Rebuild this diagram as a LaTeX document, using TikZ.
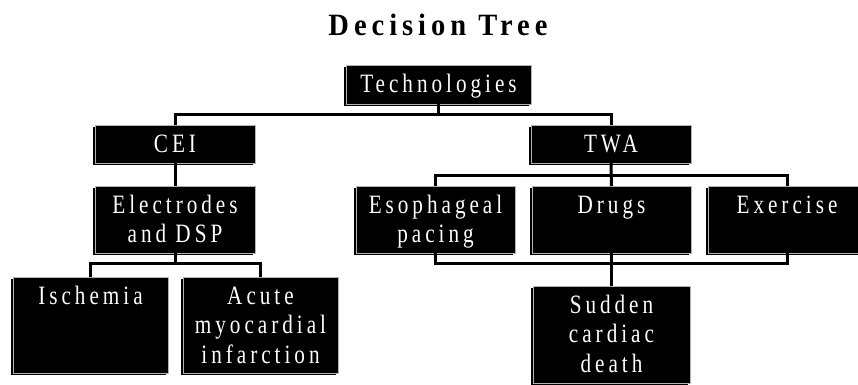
\documentclass[tikz,border=0pt]{standalone}
\usepackage{fontspec}
\setmainfont{Liberation Serif}
\newfontfamily\boxfont[LetterSpace=15,FakeStretch=0.8]{Liberation Serif}
\newfontfamily\ttlfont[LetterSpace=16,FakeStretch=0.92]{Liberation Serif}
\usetikzlibrary{shadows}
\tikzset{
  tb/.style={fill=black, draw=gray!60, line width=0.9pt, inner sep=0pt, outer sep=0pt, text=white,
    general shadow={fill=black, shadow xshift=-2pt, shadow yshift=-2pt}},
  conn/.style={draw=black, line width=3pt},
}
\newcommand\bxtext[3]{\parbox[c][#2][t]{#1}{\centering\boxfont\fontsize{26.5}{29.5}\selectfont\rule{0pt}{27pt}#3}}
\newcommand\tbox[6]{\node[tb] (#1) at ({(#2+#4)/2},{(#3+#5)/2})
  {\bxtext{\dimexpr #4pt-#2pt\relax}{\dimexpr #5pt-#3pt\relax}{#6}};}
\begin{document}
\begin{tikzpicture}[x=1pt,y=-1pt]
\useasboundingbox (0,0) rectangle (858,384);
\node[anchor=base, font=\ttlfont\bfseries\fontsize{31}{36}\selectfont] (title) at (438,35) {Decision Tree};
\tbox{tech}{346}{65}{531}{104}{Technologies}
\tbox{cei}{95}{125}{255}{163}{CEI}
\tbox{twa}{531}{125}{691}{163}{TWA}
\tbox{elec}{95}{186}{255}{253}{Electrodes\\and DSP}
\tbox{eso}{356}{186}{515}{253}{Esophageal\\pacing}
\tbox{drugs}{532}{186}{691}{253}{Drugs}
\tbox{exer}{708}{186}{866}{253}{Exercise}
\tbox{isch}{13}{277}{168}{373}{Ischemia}
\tbox{acute}{183}{277}{338}{373}{Acute\\myocardial\\infarction}
\tbox{sudden}{533}{286}{690}{383}{Sudden\\cardiac\\death}
\coordinate (b1) at (0,114);
\coordinate (b2) at (0,175);
\coordinate (b3) at (0,263);
\draw[conn] (tech.south) -- (tech.south |- b1);
\draw[conn] (cei.north) |- (twa.north |- b1) -- (twa.north);
\draw[conn] (cei.south) -- (elec.north);
\draw[conn] (elec.south) -- (elec.south |- b3);
\draw[conn] (isch.north) |- (acute.north |- b3) -- (acute.north);
\draw[conn] (twa.south) -- (drugs.north);
\draw[conn] (eso.north) |- (exer.north |- b2) -- (exer.north);
\draw[conn] (eso.south) |- (exer.south |- b3) -- (exer.south);
\draw[conn] (drugs.south) -- (sudden.north);
\end{tikzpicture}
\end{document}
